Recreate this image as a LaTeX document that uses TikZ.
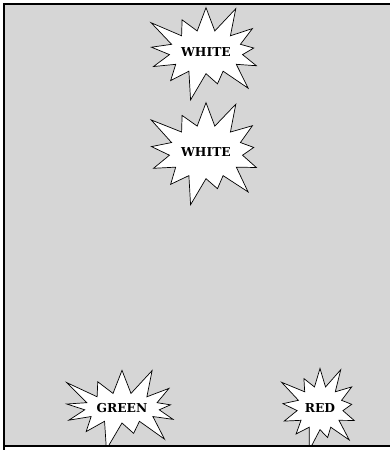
\documentclass[tikz,border=0pt]{standalone}
\usepackage{fontspec}
\newfontfamily\burstfont{DejaVu Serif}
\usetikzlibrary{shapes.symbols}
\definecolor{panelgray}{HTML}{D6D6D6}
\begin{document}
\begin{tikzpicture}[x=0.03cm, y=-0.03cm,
    every node/.style={font=\burstfont\bfseries\fontsize{10.5}{12}\selectfont},
    burst/.style={starburst, starburst points=13, starburst point height=0.95cm, draw=black, fill=white, semithick, inner sep=1pt, minimum width=3.1cm, minimum height=3.2cm},
    tallburst/.style={burst, minimum height=3.5cm},
    lowburst/.style={burst, minimum width=2.9cm, minimum height=2.8cm},
    smallburst/.style={burst, minimum width=2.3cm, minimum height=2.8cm, starburst point height=0.75cm},
    frameline/.style={line width=1.6pt, black}
]
\useasboundingbox (0,0) rectangle (390,450);
\fill[white] (0,0) rectangle (390,450);
\fill[panelgray] (4,4) rectangle (390,446);
\begin{scope}
\clip (4,4) rectangle (390,446);
\pgfmathsetseed{7}
\node (white2) [tallburst] at (206,152) {WHITE};
\node (white1) [burst] at (206,52) {WHITE};
\node (green) [lowburst] at (122,408) {GREEN};
\node (red) [smallburst] at (320,408) {RED};
\end{scope}
% frame
\draw[frameline] (4,450) -- (4,4) -- (390,4);
\draw[frameline] (4,446) -- (390,446);
\end{tikzpicture}
\end{document}
